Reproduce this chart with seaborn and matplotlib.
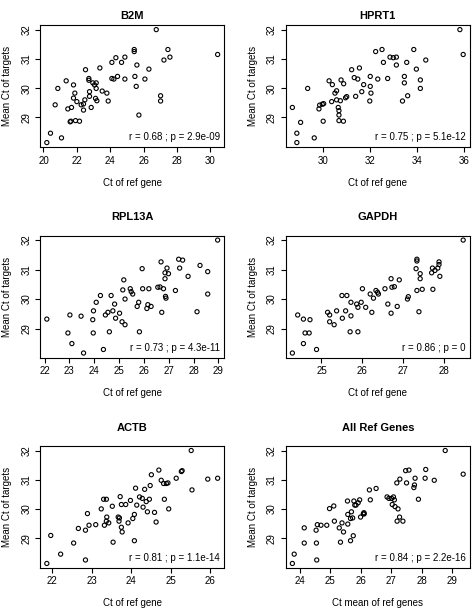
import matplotlib
matplotlib.use('Agg')
import matplotlib.pyplot as plt
import seaborn as sns
from matplotlib.ticker import MultipleLocator

# Panel titles, x labels, stats text and x tick step
genes = ['B2M', 'HPRT1', 'RPL13A', 'GAPDH', 'ACTB', 'All Ref Genes']
xlabels = ['Ct of ref gene'] * 5 + ['Ct mean of ref genes']
stats = ['r = 0.68 ; p = 2.9e-09', 'r = 0.75 ; p = 5.1e-12', 'r = 0.73 ; p = 4.3e-11',
         'r = 0.86 ; p = 0', 'r = 0.81 ; p = 1.1e-14', 'r = 0.84 ; p = 2.2e-16']
x_steps = [2, 2, 1, 1, 1, 1]
y_ticks = [29, 30, 31, 32]

# B2M
b2m_x = [20.20, 20.42, 21.08, 20.70, 20.86, 21.36, 21.46, 21.60, 21.64, 21.68, 21.80, 21.80,
         21.88, 21.92, 22.00, 22.16, 22.26, 22.40, 22.40, 22.48, 22.52, 22.72, 22.72, 22.76,
         22.76, 22.86, 22.96, 23.06, 23.12, 23.16, 23.16, 23.20, 23.38, 23.52, 23.80, 23.88,
         24.10, 24.10, 24.22, 24.34, 24.44, 24.68, 24.88, 24.88, 25.44, 25.44, 25.48, 25.56,
         25.60, 25.72, 26.08, 26.32, 26.76, 27.22, 27.02, 27.02, 27.46, 27.58, 30.44]
b2m_y = [28.14, 28.46, 28.30, 29.43, 29.99, 30.25, 29.29, 28.85, 28.87, 29.34, 30.11, 29.66,
         29.83, 28.89, 29.54, 28.87, 29.43, 29.25, 29.46, 29.60, 30.63, 30.33, 30.27, 29.88,
         29.72, 29.34, 30.18, 30.11, 29.65, 29.99, 30.18, 29.57, 30.69, 29.90, 29.83, 29.56,
         30.88, 30.33, 30.31, 31.04, 30.40, 30.88, 30.31, 31.06, 31.32, 31.25, 30.40, 30.06,
         30.79, 29.08, 30.31, 30.65, 32.00, 30.96, 29.74, 29.56, 31.32, 31.06, 31.15]

# HPRT1
hprt1_x = [28.70, 28.89, 28.89, 29.05, 29.35, 29.63, 29.83, 29.86, 29.97, 30.03, 30.01, 30.26,
           30.37, 30.40, 30.51, 30.58, 30.58, 30.65, 30.68, 30.68, 30.68, 30.74, 30.77, 30.88,
           30.87, 30.96, 31.01, 31.22, 31.33, 31.48, 31.55, 31.39, 31.65, 31.73, 31.99, 32.01,
           32.01, 32.04, 32.24, 32.33, 32.51, 32.57, 32.75, 32.85, 32.99, 33.12, 33.12, 33.38,
           33.46, 33.46, 33.56, 33.60, 33.86, 33.97, 34.14, 34.14, 34.37, 35.82, 35.96]
hprt1_y = [29.34, 28.46, 28.14, 28.83, 29.99, 28.30, 29.29, 29.42, 29.45, 29.47, 28.87, 30.25,
           29.54, 30.12, 29.83, 29.91, 29.60, 29.34, 29.23, 29.08, 28.89, 29.57, 30.28, 30.15,
           28.87, 29.67, 29.71, 30.63, 30.36, 30.31, 30.69, 29.72, 29.88, 30.12, 29.56, 30.40,
           30.06, 29.83, 31.25, 30.31, 31.32, 30.88, 30.33, 31.06, 31.04, 31.06, 30.79, 29.56,
           30.18, 30.40, 30.88, 29.74, 31.32, 30.65, 30.28, 29.99, 30.96, 32.00, 31.15]

# RPL13A
rpl13a_x = [22.09, 22.94, 23.02, 23.10, 23.47, 23.57, 23.94, 23.97, 23.96, 24.08, 24.25, 24.45,
            24.55, 24.37, 24.61, 24.68, 24.75, 24.82, 24.86, 25.02, 25.12, 25.15, 25.19, 25.24,
            25.24, 25.45, 25.49, 25.55, 25.73, 25.79, 25.82, 25.93, 25.95, 26.12, 26.16, 26.20,
            26.29, 26.56, 26.65, 26.69, 26.72, 26.79, 26.85, 26.85, 26.87, 26.89, 26.93, 26.99,
            27.27, 27.40, 27.44, 27.56, 27.78, 28.14, 28.26, 28.57, 28.57, 28.97]
rpl13a_y = [29.32, 28.85, 29.46, 28.49, 29.42, 28.17, 29.30, 29.60, 28.85, 29.89, 30.12, 29.46,
            29.55, 28.29, 28.89, 30.12, 29.60, 29.83, 29.35, 29.52, 29.23, 30.31, 30.65, 29.13,
            30.00, 30.35, 30.25, 30.17, 29.75, 29.89, 28.89, 31.03, 30.35, 29.68, 29.81, 30.35,
            29.75, 30.40, 30.41, 31.26, 29.55, 30.35, 30.69, 30.89, 30.09, 30.03, 31.05, 30.86,
            30.29, 31.35, 31.05, 31.32, 30.77, 29.57, 31.14, 30.93, 30.17, 32.00]

# GAPDH
gapdh_x = [24.29, 24.42, 24.56, 24.56, 24.60, 24.70, 24.72, 24.88, 25.15, 25.20, 25.20, 25.31,
           25.37, 25.50, 25.51, 25.62, 25.59, 25.70, 25.72, 25.72, 25.86, 25.89, 25.89, 25.97,
           26.00, 26.08, 26.19, 26.23, 26.27, 26.33, 26.37, 26.39, 26.55, 26.62, 26.70, 26.70,
           26.72, 26.78, 26.85, 26.90, 27.10, 27.12, 27.31, 27.33, 27.33, 27.33, 27.38, 27.41,
           27.41, 27.46, 27.69, 27.71, 27.72, 27.77, 27.84, 27.87, 27.87, 27.89, 28.46]
gapdh_y = [28.17, 29.46, 29.32, 28.49, 28.85, 28.85, 29.30, 28.29, 29.55, 29.46, 29.23, 29.13,
           29.60, 30.12, 29.35, 30.12, 29.60, 28.89, 29.89, 29.43, 29.83, 29.72, 28.89, 29.89,
           30.35, 29.72, 30.17, 29.55, 30.03, 30.29, 30.23, 30.17, 30.35, 29.83, 29.52, 30.69,
           30.40, 30.42, 29.75, 30.65, 30.00, 30.08, 31.03, 31.35, 31.29, 30.29, 29.57, 30.69,
           30.86, 30.33, 30.89, 31.05, 30.33, 30.97, 31.05, 31.26, 31.17, 30.77, 32.00]

# ACTB
actb_x = [21.86, 21.96, 22.21, 22.54, 22.66, 22.84, 22.84, 22.89, 22.93, 23.10, 23.24, 23.30,
          23.37, 23.32, 23.37, 23.38, 23.43, 23.52, 23.54, 23.67, 23.69, 23.70, 23.72, 23.75,
          23.75, 23.77, 23.86, 23.92, 23.98, 24.04, 24.08, 24.08, 24.11, 24.14, 24.21, 24.28,
          24.30, 24.34, 24.38, 24.41, 24.46, 24.48, 24.51, 24.59, 24.63, 24.70, 24.76, 24.82,
          24.84, 24.89, 24.93, 24.95, 25.14, 25.27, 25.29, 25.52, 25.54, 25.94, 26.19]
actb_y = [28.13, 29.09, 28.45, 28.83, 29.33, 29.27, 28.25, 29.84, 29.44, 29.46, 30.00, 30.33,
          30.33, 29.44, 29.58, 29.72, 29.52, 30.09, 28.86, 29.72, 29.58, 29.69, 30.42, 30.15,
          29.37, 29.21, 30.15, 29.52, 30.29, 29.67, 29.81, 28.91, 30.71, 30.13, 30.41, 30.36,
          30.06, 30.67, 30.25, 29.90, 30.33, 30.80, 31.17, 29.88, 29.55, 31.33, 30.98, 30.87,
          30.33, 30.87, 30.89, 30.00, 31.05, 31.28, 31.31, 32.00, 30.65, 31.02, 31.05]

# All reference genes
allref_x = [23.75, 23.81, 24.14, 24.14, 24.53, 24.54, 24.55, 24.57, 24.69, 24.88, 24.97, 25.11,
            25.13, 25.29, 25.33, 25.38, 25.43, 25.56, 25.57, 25.57, 25.66, 25.66, 25.69, 25.73,
            25.75, 25.77, 25.80, 25.84, 25.91, 25.96, 25.99, 26.08, 26.10, 26.11, 26.31, 26.28,
            26.50, 26.86, 26.92, 27.01, 27.03, 27.07, 27.10, 27.12, 27.18, 27.19, 27.22, 27.28,
            27.27, 27.38, 27.47, 27.50, 27.58, 27.74, 27.76, 27.78, 27.89, 28.11, 28.13, 28.41,
            28.77, 29.36]
allref_y = [28.13, 28.45, 29.35, 28.83, 29.27, 28.83, 28.25, 29.46, 29.44, 29.44, 30.01, 30.10,
            29.58, 29.35, 28.86, 29.52, 29.21, 30.27, 29.81, 29.48, 29.67, 28.91, 29.90, 29.69,
            29.08, 30.27, 30.13, 30.13, 30.21, 30.31, 29.72, 29.83, 29.87, 29.83, 30.31, 30.65,
            30.70, 30.41, 30.36, 30.36, 30.15, 30.41, 30.31, 30.08, 30.89, 29.58, 30.00, 31.02,
            29.72, 29.58, 31.31, 30.89, 31.33, 30.73, 30.82, 31.05, 30.33, 31.05, 31.35, 30.98,
            32.00, 31.19]

xs = [b2m_x, hprt1_x, rpl13a_x, gapdh_x, actb_x, allref_x]
ys = [b2m_y, hprt1_y, rpl13a_y, gapdh_y, actb_y, allref_y]

sns.set_style('white')
plt.rcParams['font.family'] = ['Liberation Sans', 'DejaVu Sans']
plt.rcParams['text.color'] = 'black'
plt.rcParams['axes.labelcolor'] = 'black'
plt.rcParams['xtick.color'] = 'black'
plt.rcParams['ytick.color'] = 'black'

fig, axes = plt.subplots(3, 2, figsize=(4.72, 6.12), dpi=100)
fig.subplots_adjust(left=0.0847, right=0.9958, top=0.959, bottom=0.0719,
                    wspace=0.331, hspace=0.725)

for i, ax in enumerate(axes.flat):
    sns.scatterplot(x=xs[i], y=ys[i], ax=ax, facecolors='none', edgecolor='black',
                    s=9, linewidth=0.8)
    ax.margins(0.04)
    ax.xaxis.set_major_locator(MultipleLocator(x_steps[i]))
    ax.set_yticks(y_ticks)
    for s in ax.spines.values():
        s.set_visible(True)
        s.set_color('black')
        s.set_linewidth(0.8)
    ax.tick_params(direction='out', length=3.6, width=0.8, color='black',
                   labelsize=7, pad=2.5, left=True, bottom=True)
    plt.setp(ax.get_yticklabels(), rotation=90, va='center')
    pad = 4.5 if i < 2 else 11
    ax.set_title(genes[i], fontsize=8, fontweight='bold', pad=pad)
    ax.set_xlabel(xlabels[i], fontsize=7)
    ax.set_ylabel('Mean Ct of targets', fontsize=7)
    ax.xaxis.set_label_coords(0.5, -0.25)
    ax.yaxis.set_label_coords(-0.15, 0.5)
    ax.text(0.977, 0.082, stats[i], transform=ax.transAxes, ha='right', va='center',
            fontsize=7)

plt.savefig('out.png', dpi=100)
